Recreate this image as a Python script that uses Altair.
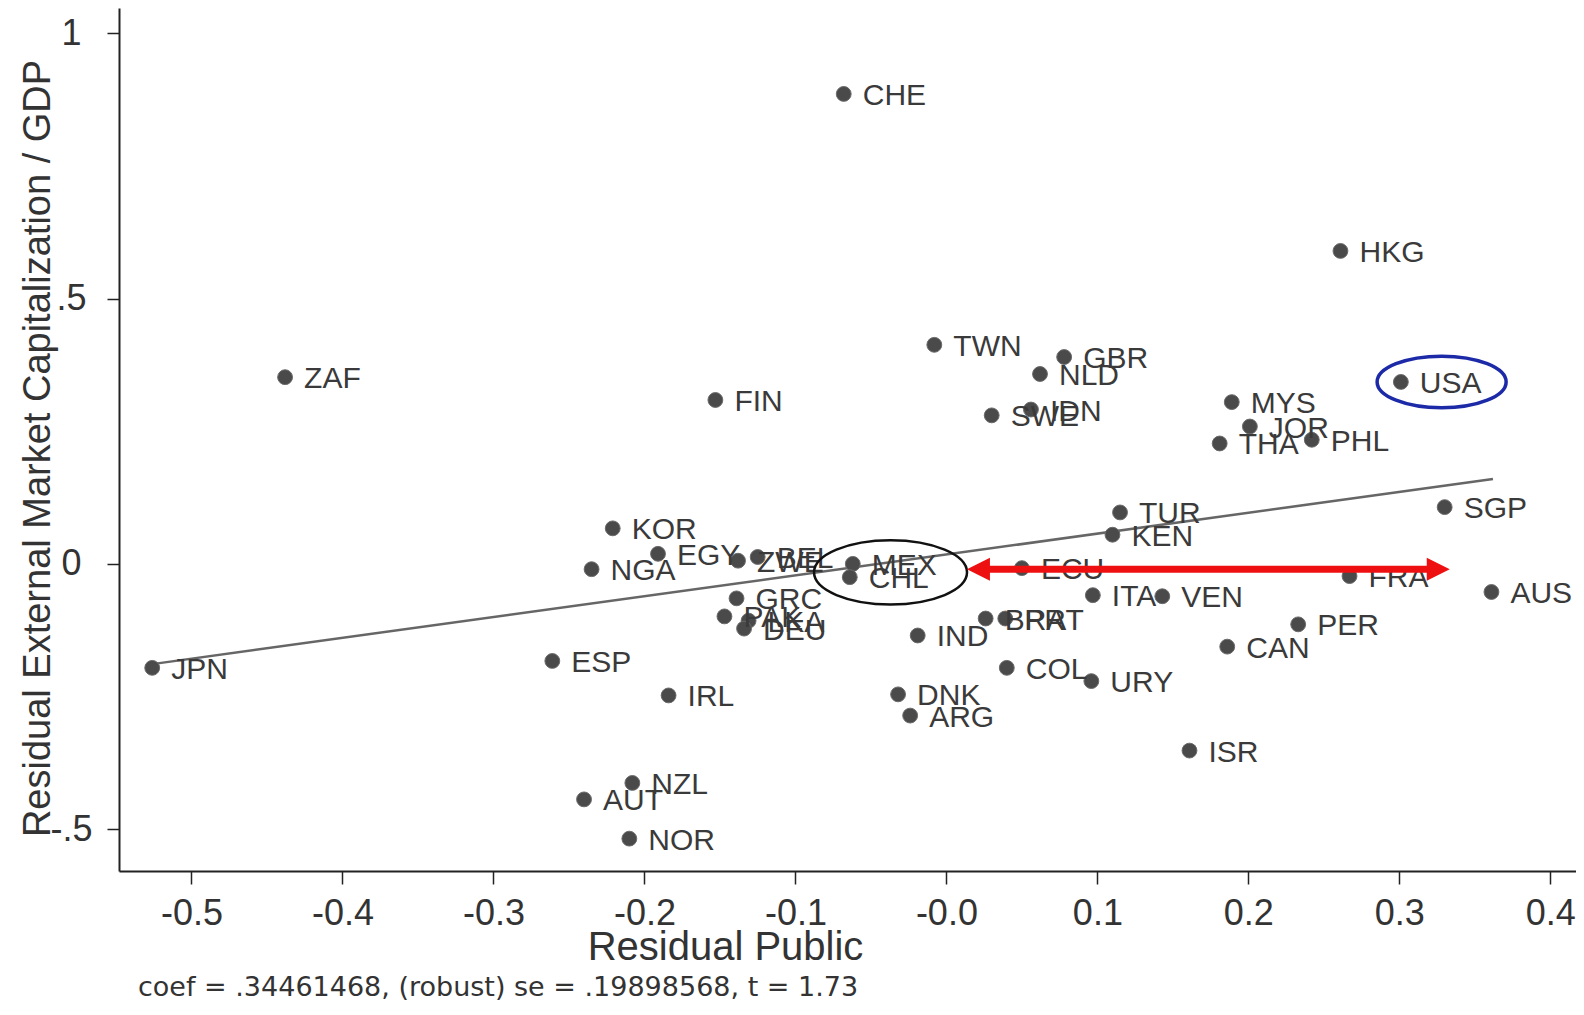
import altair as alt
import pandas as pd

countries = ["CHE", "HKG", "TWN", "GBR", "NLD", "ZAF", "USA", "FIN", "MYS", "IDN",
             "SWE", "JOR", "PHL", "THA", "SGP", "TUR", "KEN", "KOR", "EGY", "ZWE",
             "BEL", "MEX", "CHL", "NGA", "ECU", "FRA", "AUS", "ITA", "VEN", "GRC",
             "PAK", "LKA", "DEU", "BRA", "PRT", "IND", "ESP", "JPN", "PER", "CAN",
             "COL", "URY", "IRL", "DNK", "ARG", "ISR", "NZL", "AUT", "NOR"]
resid_public = [-0.068, 0.261, -0.008, 0.078, 0.062, -0.438, 0.301, -0.153, 0.189, 0.056,
                0.030, 0.201, 0.242, 0.181, 0.330, 0.115, 0.110, -0.221, -0.191, -0.138,
                -0.125, -0.062, -0.064, -0.235, 0.050, 0.267, 0.361, 0.097, 0.143, -0.139,
                -0.147, -0.131, -0.134, 0.026, 0.039, -0.019, -0.261, -0.526, 0.233, 0.186,
                0.040, 0.096, -0.184, -0.032, -0.024, 0.161, -0.208, -0.240, -0.210]
resid_extcap = [0.886, 0.590, 0.413, 0.390, 0.358, 0.352, 0.343, 0.309, 0.305, 0.291,
                0.280, 0.259, 0.234, 0.227, 0.107, 0.097, 0.055, 0.067, 0.019, 0.006,
                0.013, 0.000, -0.025, -0.010, -0.008, -0.023, -0.053, -0.059, -0.061, -0.065,
                -0.099, -0.107, -0.122, -0.103, -0.103, -0.135, -0.183, -0.196, -0.114, -0.156,
                -0.196, -0.221, -0.248, -0.246, -0.286, -0.352, -0.413, -0.444, -0.518]

# fitted line end points
fit_x = [-0.526, 0.362]
fit_y = [-0.189, 0.160]

# axis ticks
x_ticks = [-0.5, -0.4, -0.3, -0.2, -0.1, 0.0, 0.1, 0.2, 0.3, 0.4]
x_tick_labels = ["-0.5", "-0.4", "-0.3", "-0.2", "-0.1", "-0.0", "0.1", "0.2", "0.3", "0.4"]
y_ticks = [1.0, 0.5, 0.0, -0.5]
y_tick_labels = ["1", ".5", "0", "-.5"]

# hand-drawn annotations
blue_ellipse = {"x": [0.328], "y": [0.343]}
black_ellipse = {"x": [-0.037], "y": [-0.016]}
arrow_tips_x = [0.0136, 0.3334]
arrow_y = -0.010

caption = "coef = .34461468, (robust) se = .19898568, t = 1.73"

FONT = "Liberation Sans"

pts = pd.DataFrame({"country": countries, "x": resid_public, "y": resid_extcap})
fit = pd.DataFrame({"x": fit_x, "y": fit_y})


def label_expr(values, labels):
    expr = "''"
    for v, l in zip(values, labels):
        expr = f"abs(datum.value - ({v})) < 1e-6 ? '{l}' : " + expr
    return expr


x_axis = alt.Axis(values=x_ticks, labelExpr=label_expr(x_ticks, x_tick_labels),
                  title="Residual Public", grid=False, domainColor="#222", domainWidth=2,
                  tickColor="#222", tickWidth=1.5, tickSize=13, labelFont=FONT,
                  labelFontSize=36, labelColor="#333", labelPadding=12,
                  titleFont=FONT, titleFontSize=40, titleFontWeight="normal",
                  titleColor="#333", titleX=606, titleY=76, titleAlign="center",
                  titleBaseline="middle", labelFlush=False)
y_axis = alt.Axis(values=y_ticks, labelExpr=label_expr(y_ticks, y_tick_labels),
                  title="Residual External Market Capitalization / GDP", grid=False,
                  domainColor="#222", domainWidth=2, tickColor="#222", tickWidth=1.5,
                  tickSize=12, labelFont=FONT, labelFontSize=36, labelColor="#333",
                  labelPadding=36, labelAngle=0, labelAlign="center", labelFlush=False,
                  titleFont=FONT, titleFontSize=38, titleFontWeight="normal",
                  titleColor="#333", titleAngle=270, titleX=-81, titleY=440,
                  titleAlign="center", titleBaseline="middle")

x_scale = alt.Scale(domain=[-0.548, 0.417], nice=False, zero=False)
y_scale = alt.Scale(domain=[-0.579, 1.048], nice=False, zero=False)


def enc():
    return dict(x=alt.X("x:Q", scale=x_scale, axis=x_axis),
                y=alt.Y("y:Q", scale=y_scale, axis=y_axis))


line = alt.Chart(fit).mark_line(color="#666", strokeWidth=2.5).encode(**enc())

dots = alt.Chart(pts).mark_point(filled=True, size=220, color="#4a4a4a",
                                 opacity=1, stroke="#6a6a6a", strokeWidth=1).encode(**enc())

labels = alt.Chart(pts).mark_text(align="left", baseline="middle", dx=19, dy=2,
                                  font=FONT, fontSize=30, color="#3a3a3a").encode(
    text="country:N", **enc())

ellipse_path = "M -1 0 A 1 {r} 0 1 1 1 0 A 1 {r} 0 1 1 -1 0 Z"

blue = alt.Chart(pd.DataFrame(blue_ellipse)).mark_point(
    shape=ellipse_path.format(r=0.40), size=129 ** 2, filled=False,
    color="#1c2aa8", strokeWidth=3.5, opacity=1).encode(**enc())

black = alt.Chart(pd.DataFrame(black_ellipse)).mark_point(
    shape=ellipse_path.format(r=0.42), size=153 ** 2, filled=False,
    color="#111", strokeWidth=2.5, opacity=1).encode(**enc())

shaft_df = pd.DataFrame({"x": [arrow_tips_x[0] + 0.012], "x2": [arrow_tips_x[1] - 0.012],
                         "y": [arrow_y]})
shaft = alt.Chart(shaft_df).mark_rule(color="#ee1010", strokeWidth=7).encode(
    x=alt.X("x:Q", scale=x_scale, axis=x_axis), x2="x2:Q",
    y=alt.Y("y:Q", scale=y_scale, axis=y_axis))

head_r = alt.Chart(pd.DataFrame({"x": [arrow_tips_x[1]], "y": [arrow_y]})).mark_point(
    shape="M 0 0 L -2 -1 L -2 1 Z", size=529, filled=True, color="#ee1010",
    opacity=1).encode(**enc())
head_l = alt.Chart(pd.DataFrame({"x": [arrow_tips_x[0]], "y": [arrow_y]})).mark_point(
    shape="M 0 0 L 2 -1 L 2 1 Z", size=529, filled=True, color="#ee1010",
    opacity=1).encode(**enc())

chart = alt.layer(line, dots, labels, blue, black, shaft, head_r, head_l).properties(
    width=1457, height=863,
    autosize=alt.AutoSizeParams(type="none"),
    padding={"left": 111, "top": 0, "right": 0, "bottom": 136},
    title=alt.TitleParams(text=caption, orient="bottom", anchor="start", frame="group",
                          dx=19, offset=8, font="DejaVu Sans", fontSize=27,
                          fontWeight="normal", color="#333"),
    background="white",
).configure_view(stroke=None)

chart.save("out.html", embed_options={"renderer": "svg", "actions": False})
